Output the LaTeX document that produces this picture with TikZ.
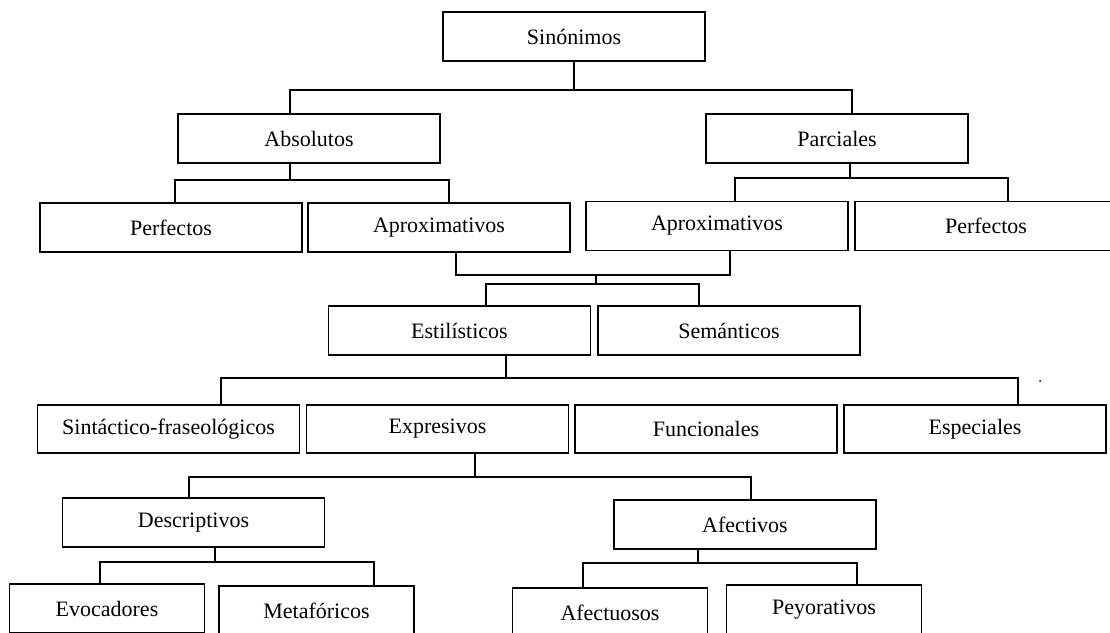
\documentclass[tikz,border=0pt]{standalone}
\usepackage{fontspec}
\setmainfont{Liberation Serif}
\begin{document}
\begin{tikzpicture}[x=1pt,y=-1pt,
  every path/.style={line width=1.5pt},
  box/.style={draw=black, line width=1.5pt, minimum width=262pt, minimum height=49pt, inner sep=0pt,
    font=\fontsize{22}{26}\selectfont},
  smallbox/.style={box, minimum width=195pt},
  link/.style={draw=black, line width=1.5pt}]
\useasboundingbox (0,0) rectangle (1110,632);
\fill[white] (0,0) rectangle (1110,632);
% nodes
\node[box] (sin) at (574,36.5) {Sinónimos};
\node[box] (abs) at (309,138.5) {Absolutos};
\node[box] (par) at (837,138.5) {Parciales};
\node[box] (perfL) at (171,227.5) {Perfectos};
\node[box] (aproxL) at (439,227.5) {Aproximativos};
\node[box] (aproxR) at (717,226) {Aproximativos};
\node[box] (perfR) at (986,226) {Perfectos};
\node[box] (esti) at (459.5,330.5) {Estilísticos};
\node[box] (sem) at (729,330.5) {Semánticos};
\node[box, minimum height=48pt] (sint) at (168.5,429) {Sintáctico-fraseológicos};
\node[box, minimum height=48pt] (expr) at (437.5,429) {Expresivos};
\node[box, minimum height=48pt] (func) at (706,429) {Funcionales};
\node[box, minimum height=48pt] (espe) at (975,429) {Especiales};
\node[box] (desc) at (193.5,522.5) {Descriptivos};
\node[box] (afec) at (745,524.5) {Afectivos};
\node[smallbox] (evoc) at (107,608.5) {Evocadores};
\node[smallbox] (meta) at (316.5,610.5) {Metafóricos};
\node[smallbox] (afectuo) at (610,612.5) {Afectuosos};
\node[smallbox] (peyo) at (824,609.5) {Peyorativos};
\node[circle, fill=black, inner sep=0pt, minimum size=2pt] (dot) at (1040,381) {};
% bus coordinates
\coordinate (b1l) at (290,90);   \coordinate (b1r) at (852,90);
\coordinate (b2p) at (290,180);  \coordinate (b2l) at (175,180);  \coordinate (b2r) at (449,180);
\coordinate (b3p) at (850,178);  \coordinate (b3l) at (735,178);  \coordinate (b3r) at (1008,178);
\coordinate (b4l) at (456,275);  \coordinate (b4r) at (730,275);
\coordinate (b4m) at (596,275);  \coordinate (b5m) at (596,284);
\coordinate (b5l) at (486,284);  \coordinate (b5r) at (699,284);
\coordinate (b6p) at (506,378);  \coordinate (b6l) at (221,378);  \coordinate (b6r) at (1018,378);
\coordinate (b7p) at (475,477);  \coordinate (b7l) at (189,477);  \coordinate (b7r) at (751,477);
\coordinate (b8p) at (215,562);  \coordinate (b8l) at (100,562);  \coordinate (b8r) at (374,562);
\coordinate (b9p) at (698,563);  \coordinate (b9l) at (583,563);  \coordinate (b9r) at (857,563);
% connectors
\draw[link] (sin.south) -- (sin.south |- b1l);
\draw[link] (abs.north -| b1l) -- (b1l) -- (b1r) -- (par.north -| b1r);
\draw[link] (abs.south -| b2p) -- (b2p);
\draw[link] (perfL.north -| b2l) -- (b2l) -- (b2r) -- (aproxL.north -| b2r);
\draw[link] (par.south -| b3p) -- (b3p);
\draw[link] (aproxR.north -| b3l) -- (b3l) -- (b3r) -- (perfR.north -| b3r);
\draw[link] (aproxL.south -| b4l) -- (b4l) -- (b4r) -- (aproxR.south -| b4r);
\draw[link] (b4m) -- (b5m);
\draw[link] (esti.north -| b5l) -- (b5l) -- (b5r) -- (sem.north -| b5r);
\draw[link] (esti.south -| b6p) -- (b6p);
\draw[link] (sint.north -| b6l) -- (b6l) -- (b6r) -- (espe.north -| b6r);
\draw[link] (expr.south -| b7p) -- (b7p);
\draw[link] (desc.north -| b7l) -- (b7l) -- (b7r) -- (afec.north -| b7r);
\draw[link] (desc.south -| b8p) -- (b8p);
\draw[link] (evoc.north -| b8l) -- (b8l) -- (b8r) -- (meta.north -| b8r);
\draw[link] (afec.south -| b9p) -- (b9p);
\draw[link] (afectuo.north -| b9l) -- (b9l) -- (b9r) -- (peyo.north -| b9r);
\end{tikzpicture}
\end{document}
